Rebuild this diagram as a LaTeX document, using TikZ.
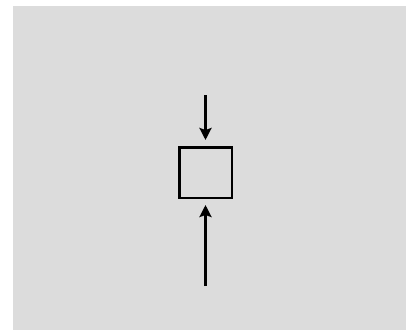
\documentclass[tikz,border=0pt]{standalone}
\usetikzlibrary{arrows.meta}
\definecolor{bggray}{RGB}{220,220,220}
\tikzset{
  blockbox/.style={draw, line width=2.5pt, minimum width=52.5pt, minimum height=50.5pt, inner sep=0pt},
  loadarrow/.style={-{Stealth[length=12pt,width=12pt,inset=2pt]}, line width=2.5pt, shorten >=6pt}
}
\begin{document}
\begin{tikzpicture}[x=1pt,y=-1pt]
        % Frame
        \useasboundingbox (0,0) rectangle (413,330);
        \fill[bggray] (13,6) rectangle (406,330);

        % Block
        \node[blockbox] (block) at (205.5,172.5) {};

        % Free ends of the loads
        \coordinate (topload) at (205.5,95);
        \coordinate (bottomload) at (205.5,286);

        % Loads
        \draw[loadarrow] (topload) -- (block);
        \draw[loadarrow] (bottomload) -- (block);
\end{tikzpicture}
\end{document}
